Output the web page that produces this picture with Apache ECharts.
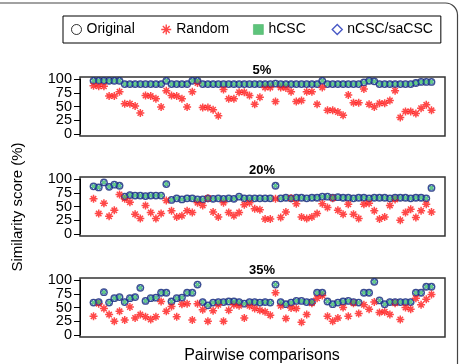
<!DOCTYPE html>
<html><head><meta charset="utf-8">
<script src="https://cdn.jsdelivr.net/npm/echarts@6/dist/echarts.min.js"></script>
<style>html,body{margin:0;padding:0;background:#fff}#c{width:463px;height:364px}</style>
</head><body><div id="c"></div>
<script>
// ---- data (pairwise comparison index 0..65) ----
const panelTitles = ['5%', '20%', '35%'];
const yTickValues = [0, 25, 50, 75, 100];
const seriesNames = ['Original', 'Random', 'hCSC', 'nCSC/saCSC'];

// Original, hCSC and nCSC/saCSC coincide in every panel
const overlap5 = [97,97,97,97,97,97, 91,91,91,91,91,91,91,91, 97, 91,91,91,91, 97,97,
  91,91,91,91,91,91,91,91,91,91,91,91,91,91, 92, 91,91,91,91,91,91,91,91, 97,
  91,91,91,91,91,91,91, 94,97,96, 91,91,91,91,91,91,91, 93,95,95,95];
const random5 = [88,87,87,69,69,77,55,55,51,38, 70,69,64,49,79,70,69,64,49,77,
  93,48,48,44,33,81,64,64,76,76, 70,54,67,85,85,59,85,84,77,59,
  61,77,77,54,85,43,43,40,34,71, 57,57,82,54,49,56,56,61,79,30, 41,41,37,47,53,43];

const overlap20 = [87,85,94,86,90,88, 68,71,70,70,69,70,70,70, 91,
  62,65,63,65,65,63,63,65,64,65,64,65,64,68,65,65,65,65,65,65, 88,
  65,66,65,66,66,65,66,66,68,68,66,67,66,66,65,66,66,65,66,66,66,65,66,66,66,65,66,66,65, 84];
const random20 = [64,37,56,32,43,72,64,58,36,28, 52,39,28,37,61,42,31,33,42,39,
  57,52,65,40,31,57,39,33,39,53, 57,46,44,27,27,64,30,40,65,55,
  31,28,31,37,55,48,65,43,36,54, 36,28,54,56,42,27,31,52,63,25, 39,45,30,42,54,40];

const overlap35 = [59,60,78,59,67,69,60,67,69,86, 62,67,68,77,77,61,67,68,77,77,
  92,60,54,59,60,60,61,61,60,57, 60,60,59,60,59,92,60,56,59,62,
  62,60,60,77,77,61,56,59,61,62, 60,59,77,77,97,63,56,60,60,60, 60,60,77,77,88,88];
const random35 = [34,57,48,37,25,43,27,51,31,37, 33,28,33,61,43,52,33,56,57,27,
  57,46,25,44,55,25,45,55,53,31, 53,48,45,42,36,77,53,30,49,48,
  23,37,58,67,72,34,25,31,50,34, 58,39,55,47,60,41,42,37,58,28, 50,47,67,55,65,74];

const panels = [
  { overlap: overlap5, random: random5 },
  { overlap: overlap20, random: random20 },
  { overlap: overlap35, random: random35 }
];

// ---- styling ----
const FONT = '"Liberation Sans", Arial, sans-serif';
const STAR = 'path://M5,0L5,10M0,5L10,5M1.6,1.6L8.4,8.4M8.4,1.6L1.6,8.4';
const boxTops = [77, 177, 278];
const boxH = 59;
const padFrac = 4 / 108;           // R-style 4% range extension
const innerTop = t => t + boxH * padFrac;
const innerH = boxH * 100 / 108;
// split ticks across two stacked axes so ECharts does not drop "overlapping" labels
const ticksA = yTickValues.filter((v, i) => i % 2 === 0);  // 0, 50, 100
const ticksB = yTickValues.filter((v, i) => i % 2 === 1);  // 25, 75

const toPts = arr => arr.map((v, i) => [i, v]);

const labelStyle = { fontSize: 14.5, color: '#000', margin: 8, fontFamily: FONT };
const grid = [], xAxis = [], yAxis = [], series = [];
panels.forEach((p, k) => {
  grid.push({ left: 80, right: 18, top: innerTop(boxTops[k]), height: innerH, show: false });
  xAxis.push({ gridIndex: k, type: 'value', min: -2.6, max: 67.6, show: false });
  const yIdx = yAxis.length;
  yAxis.push({ gridIndex: k, type: 'value', position: 'left', offset: 0,
    min: yTickValues[0], max: yTickValues[yTickValues.length - 1],
    axisLine: { show: true, onZero: false, lineStyle: { color: '#000', width: 1 } },
    axisTick: { show: true, length: 6, customValues: ticksA, lineStyle: { color: '#000' } },
    axisLabel: Object.assign({ customValues: ticksA, showMinLabel: true, showMaxLabel: true }, labelStyle),
    splitLine: { show: false } });
  yAxis.push({ gridIndex: k, type: 'value', position: 'left', offset: 0,
    min: yTickValues[0], max: yTickValues[yTickValues.length - 1],
    axisLine: { show: false, onZero: false },
    axisTick: { show: true, length: 6, customValues: ticksB, lineStyle: { color: '#000' } },
    axisLabel: Object.assign({ customValues: ticksB }, labelStyle),
    splitLine: { show: false } });
  series.push({ name: 'Original', type: 'scatter', xAxisIndex: k, yAxisIndex: yIdx, data: toPts(p.overlap),
    symbol: 'circle', symbolSize: 6.5,
    itemStyle: { color: 'none', borderColor: '#14286e', borderWidth: 1.3 }, z: 1 });
  series.push({ name: 'Random', type: 'scatter', xAxisIndex: k, yAxisIndex: yIdx, data: toPts(p.random),
    symbol: STAR, symbolSize: 8,
    itemStyle: { color: 'none', borderColor: '#ff1a1a', borderWidth: 1.5 }, z: 2 });
  series.push({ name: 'hCSC', type: 'scatter', xAxisIndex: k, yAxisIndex: yIdx, data: toPts(p.overlap),
    symbol: 'rect', symbolSize: 4,
    itemStyle: { color: '#3dba6a', borderWidth: 0 }, z: 3 });
  series.push({ name: 'nCSC/saCSC', type: 'scatter', xAxisIndex: k, yAxisIndex: yIdx, data: toPts(p.overlap),
    symbol: 'diamond', symbolSize: 6.5,
    itemStyle: { color: 'none', borderColor: '#1f3cb0', borderWidth: 1 }, z: 4 });
});
// frame grids (the plot boxes)
panels.forEach((p, k) => {
  const g = grid.length;
  grid.push({ left: 80, right: 18, top: boxTops[k], height: boxH, show: true,
    borderColor: '#333', borderWidth: 1.5, backgroundColor: 'transparent' });
  xAxis.push({ gridIndex: g, type: 'value', show: false, min: 0, max: 1 });
  yAxis.push({ gridIndex: g, type: 'value', show: false, min: 0, max: 1 });
});

const graphic = [
  { type: 'rect', shape: { x: -20, y: 3, width: 477.5, height: 500, r: 12 }, silent: true,
    style: { fill: 'none', stroke: '#444', lineWidth: 1.2 } },
  { type: 'text', x: 18, y: 207, rotation: Math.PI / 2,
    style: { text: 'Similarity score (%)', font: '15px ' + FONT, fill: '#000', textAlign: 'center', textVerticalAlign: 'middle' } },
  { type: 'text', x: 262, y: 356,
    style: { text: 'Pairwise comparisons', font: '16px ' + FONT, fill: '#000', textAlign: 'center', textVerticalAlign: 'middle' } }
];
const titleY = [70, 170, 270];
panelTitles.forEach((t, k) => graphic.push({ type: 'text', x: 262, y: titleY[k],
  style: { text: t, font: 'bold 13px ' + FONT, fill: '#000', textAlign: 'center', textVerticalAlign: 'middle' } }));

const chart = echarts.init(document.getElementById('c'), null, { renderer: 'canvas' });
chart.setOption({
  animation: false,
  backgroundColor: '#fff',
  legend: {
    left: 63, top: 16, padding: [6, 8, 6, 6], itemGap: 24, itemWidth: 10, itemHeight: 10,
    borderColor: '#000', borderWidth: 1, borderRadius: 0,
    textStyle: { fontSize: 14, color: '#000', fontFamily: FONT },
    data: [
      { name: 'Original', icon: 'circle', itemStyle: { color: 'none', borderColor: '#000', borderWidth: 1 } },
      { name: 'Random', icon: STAR, itemStyle: { color: 'none', borderColor: '#ff1a1a', borderWidth: 1.4 } },
      { name: 'hCSC', icon: 'rect', itemStyle: { color: '#35b55a', borderColor: '#2aa048', borderWidth: 0.5 } },
      { name: 'nCSC/saCSC', icon: 'diamond', itemStyle: { color: 'none', borderColor: '#1a2fb8', borderWidth: 1.4 } }
    ]
  },
  grid, xAxis, yAxis, series, graphic
});
</script></body></html>
